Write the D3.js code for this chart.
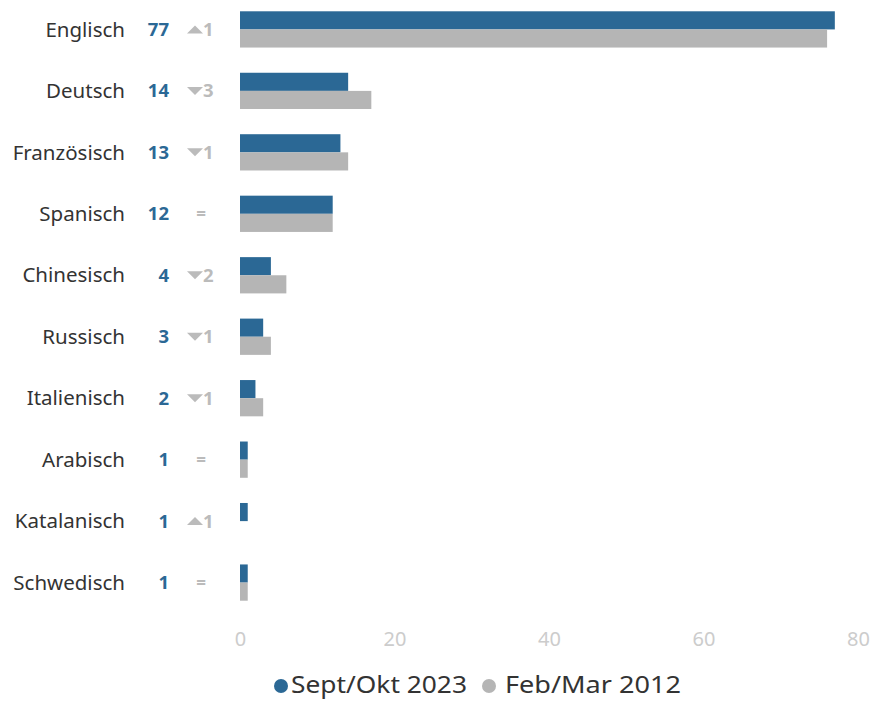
<!DOCTYPE html>
<html><head><meta charset="utf-8">
<script src="https://cdn.jsdelivr.net/npm/d3@7"></script>
<style>body{margin:0;background:#fff}svg{display:block}text{font-family:"Noto Sans",sans-serif}</style>
</head><body><svg id="c" width="874" height="701"></svg>
<script>
const categories = ["Englisch","Deutsch","Französisch","Spanisch","Chinesisch","Russisch","Italienisch","Arabisch","Katalanisch","Schwedisch"];
const values2023 = [77,14,13,12,4,3,2,1,1,1];
const values2012 = [76,17,14,12,6,4,3,1,0,1];
const changeDir = ["up","down","down","eq","down","down","down","eq","up","eq"];
const changeVal = ["1","3","1","","2","1","1","","1",""];
const xTicks = [0,20,40,60,80];
const seriesNames = ["Sept/Okt 2023","Feb/Mar 2012"];
const colors = ["#2b6895","#b5b5b5"];

const svg = d3.select("#c");
const x = d3.scaleLinear().domain([0,80]).range([240,858]);
const y = d3.scaleBand().domain(categories).range([-1,613]).paddingInner(0.41).paddingOuter(0.2);
const bh = y.bandwidth()/2;

const g = svg.append("g");
categories.forEach((c,i)=>{
  const y0 = y(c);
  g.append("rect").attr("x",x(0)).attr("y",y0).attr("width",x(values2023[i])-x(0)).attr("height",bh).attr("fill",colors[0]);
  g.append("rect").attr("x",x(0)).attr("y",y0+bh).attr("width",x(values2012[i])-x(0)).attr("height",bh).attr("fill",colors[1]);
  const cy = y0+bh;
  g.append("text").attr("x",125).attr("y",cy).attr("dy","0.35em").attr("text-anchor","end")
    .attr("font-size",20.5).attr("fill","#333").text(c);
  g.append("text").attr("x",169).attr("y",cy).attr("dy","0.35em").attr("text-anchor","end")
    .attr("font-size",18.5).attr("font-weight","bold").attr("fill",colors[0]).text(values2023[i]);
  const d = changeDir[i];
  if(d==="eq"){
    g.append("text").attr("x",201).attr("y",cy).attr("dy","0.35em").attr("text-anchor","middle")
      .attr("font-size",17).attr("font-weight","bold").attr("fill","#bbb").text("=");
  } else {
    const tx=195, ty=cy;
    const pts = d==="up" ? [[tx-8,ty+4],[tx+8,ty+4],[tx,ty-4]] : [[tx-8,ty-4],[tx+8,ty-4],[tx,ty+4]];
    g.append("path").attr("d",d3.line()(pts)+"Z").attr("fill","#bbb");
    g.append("text").attr("x",203).attr("y",cy).attr("dy","0.35em").attr("text-anchor","start")
      .attr("font-size",18.5).attr("font-weight","bold").attr("fill","#bbb").text(changeVal[i]);
  }
});

const ax = svg.append("g").attr("transform","translate(0,632)")
  .call(d3.axisBottom(x).tickValues(xTicks).tickSize(0).tickPadding(0));
ax.select(".domain").remove();
ax.selectAll("text").attr("font-size",20).attr("fill","#ccc").attr("dy","0.71em").style("font-family","Noto Sans, sans-serif");

const leg = svg.append("g");
const legX = [281, 489];
const legT = [291, 505];
seriesNames.forEach((s,i)=>{
  leg.append("circle").attr("cx",legX[i]).attr("cy",686).attr("r",7).attr("fill",colors[i]);
  leg.append("text").attr("x",legT[i]).attr("y",685).attr("dy","0.35em").attr("font-size",24)
    .attr("textLength",176).attr("lengthAdjust","spacingAndGlyphs").attr("fill","#333").text(s);
});
</script></body></html>
